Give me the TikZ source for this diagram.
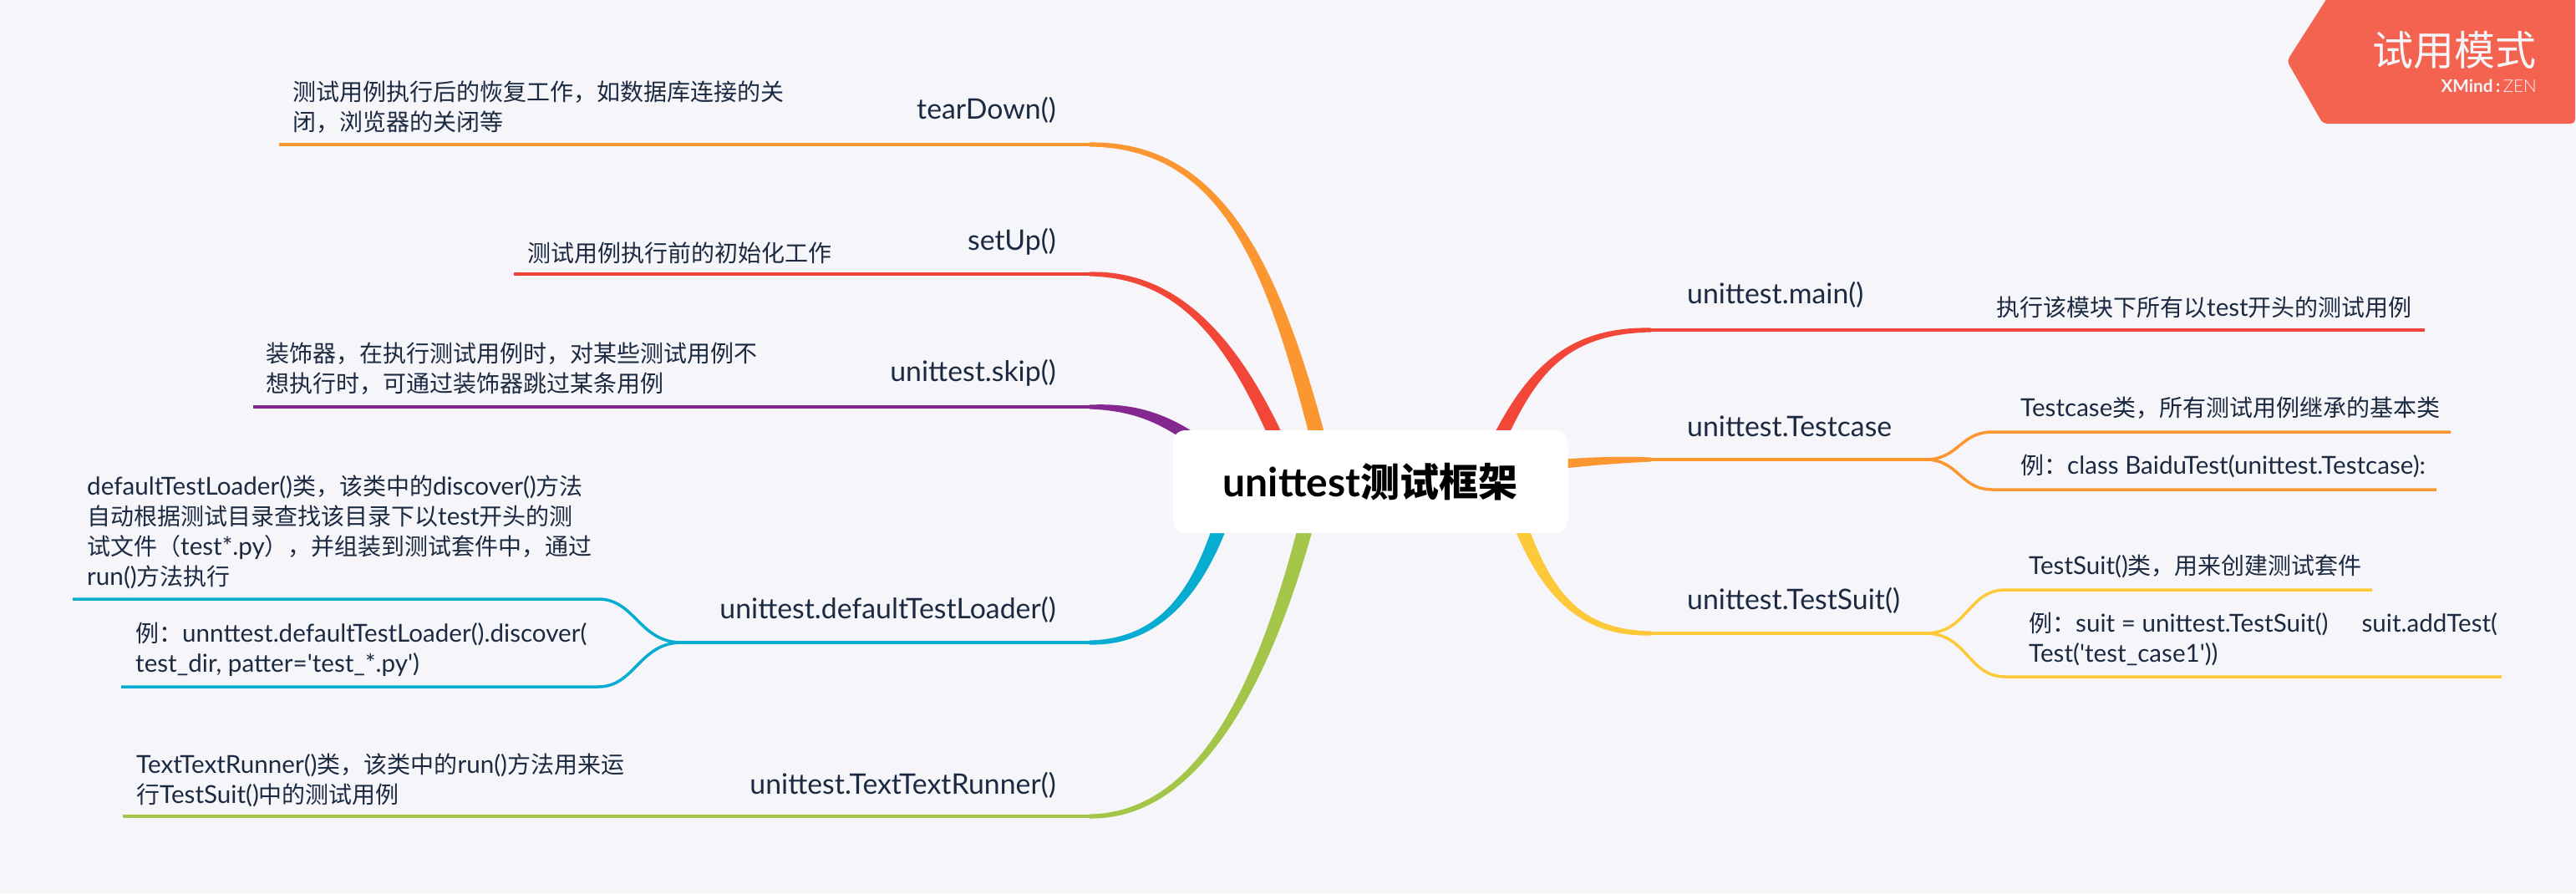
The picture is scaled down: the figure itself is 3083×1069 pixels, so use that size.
\documentclass[tikz,border=0pt]{standalone}
\usepackage{fontspec}
\setmainfont[Scale=1.057,Ligatures=TeXOff]{Lato}
\newfontfamily\cjk{Noto Sans CJK SC}
\usetikzlibrary{calc}
\definecolor{paper}{HTML}{F5F5FA}
\definecolor{ink}{HTML}{1B2A41}
\definecolor{badge}{HTML}{F4634F}
\definecolor{cOrange}{HTML}{FB9631}
\definecolor{cRed}{HTML}{F24638}
\definecolor{cPurple}{HTML}{84288F}
\definecolor{cBlue}{HTML}{06ADD1}
\definecolor{cGreen}{HTML}{A3C548}
\definecolor{cYellow}{HTML}{FEC938}
\newcommand{\zh}[1]{{\cjk #1}}
\newcommand{\mainbranch}[6]{\fill[#1] ($(#2)+(#6)$) .. controls ($(#3)+(#6)$) and ($(#4)+(0,-5)$) .. ($(#5)+(0,-2.5)$) -- ($(#5)+(0,2.5)$) .. controls ($(#4)+(0,5)$) and ($(#3)-(#6)$) .. ($(#2)-(#6)$) -- cycle;}
\tikzset{
    topic/.style={inner sep=0pt,text=ink,font=\fontsize{32}{38}\selectfont},
    topicl/.style={topic,anchor=east},
    topicr/.style={topic,anchor=west},
    leaf/.style={inner sep=0pt,text=ink,anchor=west,align=left,font=\fontsize{28}{36}\selectfont},
    subline/.style={line width=3.5pt}
}
\begin{document}
\begin{tikzpicture}[x=1pt,y=-1pt]
        \useasboundingbox (0,0) rectangle (3083,1069);
        \fill[paper] (0,0) rectangle (3083,1069);
        \coordinate (tearE) at (1304,173);
        \coordinate (setE) at (1304,328);
        \coordinate (skipE) at (1304,487);
        \coordinate (loadE) at (1304,769);
        \coordinate (runE) at (1304,977);
        \coordinate (mainE) at (1976,395);
        \coordinate (caseE) at (1976,550);
        \coordinate (suitE) at (1976,758);
        \mainbranch{cOrange}{1590,575}{1530,330}{1470,173}{tearE}{9.5,0}
        \mainbranch{cRed}{1555,590}{1490,420}{1420,328}{setE}{9.5,0}
        \mainbranch{cPurple}{1470,560}{1405,500}{1360,487}{skipE}{5,-6}
        \mainbranch{cBlue}{1480,560}{1450,690}{1400,769}{loadE}{-9.5,0}
        \mainbranch{cGreen}{1580,560}{1530,780}{1450,977}{runE}{-9.5,0}
        \mainbranch{cRed}{1770,580}{1820,460}{1860,395}{mainE}{-9.5,0}
        \mainbranch{cOrange}{1780,565}{1860,555}{1920,550}{caseE}{0,-6}
        \mainbranch{cYellow}{1795,550}{1835,700}{1880,758}{suitE}{9.5,0}
        \coordinate (tearL) at (334,173);
        \coordinate (setL) at (615,328);
        \coordinate (skipL) at (303,487);
        \coordinate (runL) at (147,977);
        \coordinate (mainR) at (2902,395);
        \draw[subline,cOrange] (tearE)--(tearL);
        \draw[subline,cRed] (setE)--(setL);
        \draw[subline,cPurple] (skipE)--(skipL);
        \draw[subline,cGreen] (runE)--(runL);
        \draw[subline,cRed] (mainE)--(mainR);
        \coordinate (loadS) at (816,769);
        \coordinate (loadA) at (87,717);
        \coordinate (loadB) at (145,822);
        \draw[subline,cBlue] (loadE)--(loadS);
        \draw[subline,cBlue] (loadS) .. controls (765,769) and (760,717) .. (716,717)--(loadA);
        \draw[subline,cBlue] (loadS) .. controls (765,769) and (760,822) .. (716,822)--(loadB);
        \coordinate (caseS) at (2304,550);
        \coordinate (caseA) at (2933,517);
        \coordinate (caseB) at (2916,586);
        \draw[subline,cOrange] (caseE)--(caseS);
        \draw[subline,cOrange] (caseS) .. controls (2345,550) and (2345,517) .. (2385,517)--(caseA);
        \draw[subline,cOrange] (caseS) .. controls (2345,550) and (2345,586) .. (2385,586)--(caseB);
        \coordinate (suitS) at (2304,758);
        \coordinate (suitA) at (2839,706);
        \coordinate (suitB) at (2994,810);
        \draw[subline,cYellow] (suitE)--(suitS);
        \draw[subline,cYellow] (suitS) .. controls (2355,758) and (2355,706) .. (2400,706)--(suitA);
        \draw[subline,cYellow] (suitS) .. controls (2355,758) and (2355,810) .. (2400,810)--(suitB);
        \node[fill=white,rounded corners=15pt,minimum width=473pt,minimum height=123pt,inner sep=0pt,font=\fontsize{45.4}{50}\selectfont\bfseries] (root) at (1640,576.5){unittest{\fontsize{47}{50}\selectfont\zh{测试框架}}};
        \node[topicl] (teardown) at (1264,132){tearDown()};
        \node[topicl] (setup) at (1264,289){setUp()};
        \node[topicl] (skip) at (1264,446){unittest.skip()};
        \node[topicl] (loader) at (1264,730){unittest.defaultTestLoader()};
        \node[topicl] (runner) at (1264,940){unittest.TextTextRunner()};
        \node[topicr] (main) at (2019,353){unittest.main()};
        \node[topicr] (testcase) at (2019,510){unittest.Testcase};
        \node[topicr] (testsuit) at (2019,719){unittest.TestSuit()};
        \node[leaf] (teartext) at (350,128){\zh{测试用例执行后的恢复工作，如数据库连接的关}\\\zh{闭，浏览器的关闭等}};
        \node[leaf] (settext) at (631,303){\zh{测试用例执行前的初始化工作}};
        \node[leaf] (skiptext) at (318,441){\zh{装饰器，在执行测试用例时，对某些测试用例不}\\\zh{想执行时，可通过装饰器跳过某条用例}};
        \node[leaf] (loadtext) at (104,637){defaultTestLoader()\zh{类，该类中的}discover()\zh{方法}\\\zh{自动根据测试目录查找该目录下以}test\zh{开头的测}\\\zh{试文件（}test*.py\zh{），并组装到测试套件中，通过}\\run()\zh{方法执行}};
        \node[leaf] (loadcode) at (162,777){\zh{例：}unnttest.defaultTestLoader().discover(\\test\_dir, patter='test\_*.py')};
        \node[leaf] (runtext) at (163,934){TextTextRunner()\zh{类，该类中的}run()\zh{方法用来运}\\\zh{行}TestSuit()\zh{中的测试用例}};
        \node[leaf] (maintext) at (2389,368){\zh{执行该模块下所有以}test\zh{开头的测试用例}};
        \node[leaf] (casetext) at (2418,488){Testcase\zh{类，所有测试用例继承的基本类}};
        \node[leaf] (casecode) at (2418,558){\zh{例：}class BaiduTest(unittest.Testcase):};
        \node[leaf] (suittext) at (2428,678){TestSuit()\zh{类，用来创建测试套件}};
        \node[leaf] (suitcode) at (2428,765){\zh{例：}suit = unittest.TestSuit()\hspace{40pt}suit.addTest(\\Test('test\_case1'))};
        \fill[badge,rounded corners=5pt] (2790,-10)--(2737,73)--(2780,148)--(3082,148)--(3082,-10)--cycle;
        \node[inner sep=0pt,anchor=east,text=paper,font=\fontsize{49}{50}\selectfont] (trial) at (3036,60){\zh{试用模式}};
        \node[inner sep=0pt,anchor=east,text=paper,font=\fontsize{19.6}{24}\selectfont] (brand) at (3036,103){\textbf{XMind\,:\,}{\fontspec[Scale=1.057]{Lato Light}ZEN}};
    \end{tikzpicture}
\end{document}
